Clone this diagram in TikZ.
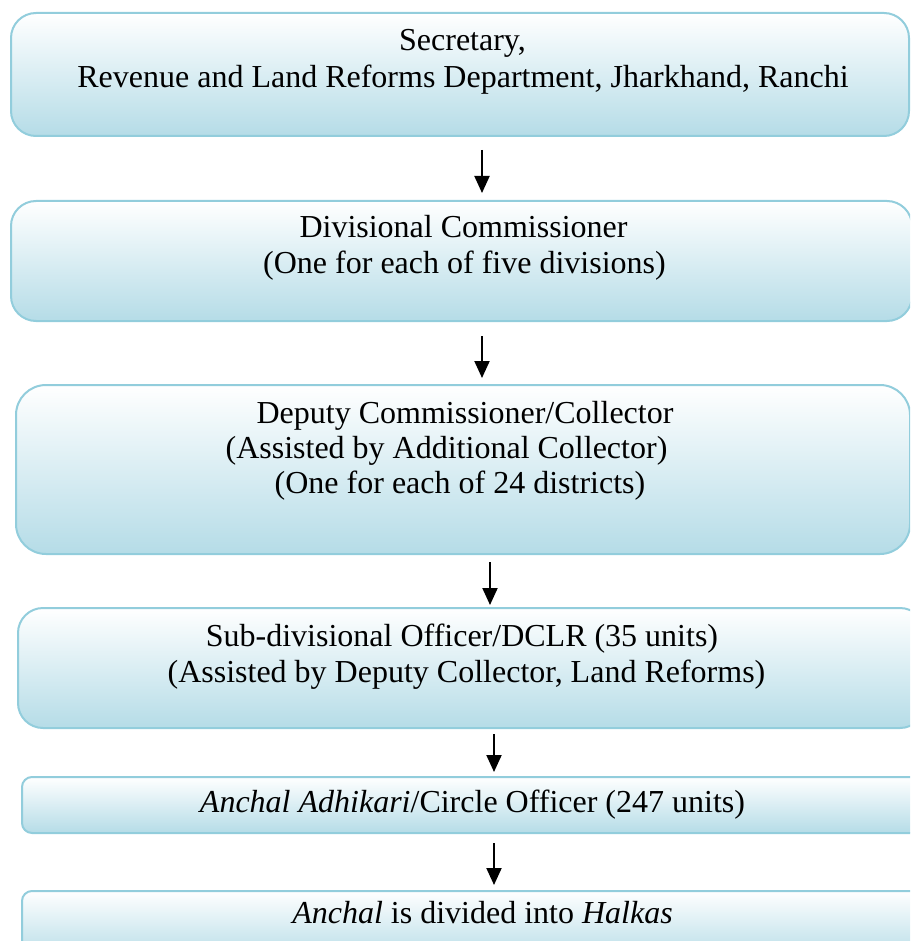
\documentclass[tikz,border=0pt]{standalone}
\usepackage{fontspec}
\setmainfont{Liberation Serif}
\usetikzlibrary{arrows.meta}
\definecolor{boxedge}{RGB}{146,205,220}
\definecolor{boxfill}{RGB}{181,220,231}
\tikzset{
  box/.style={draw=boxedge, line width=2pt, top color=white, bottom color=boxfill,
              rectangle, inner sep=0pt, outer sep=0pt},
  lbl/.style={anchor=base, inner sep=0pt, font=\fontsize{32}{36}\selectfont},
  arr/.style={line width=2pt, -{Triangle[length=17pt,width=15pt]}}
}
\begin{document}
\begin{tikzpicture}[x=1pt,y=-1pt]
\useasboundingbox (0,0) rectangle (910,941);
\clip (0,0) rectangle (910,941);
% boxes
\node[box, rounded corners=25pt, minimum width=898pt, minimum height=123pt] (b1) at (460,74.5) {};
\node[box, rounded corners=25pt, minimum width=901pt, minimum height=120pt] (b2) at (461.5,261) {};
\node[box, rounded corners=30pt, minimum width=894pt, minimum height=169pt] (b3) at (463,469.5) {};
\node[box, rounded corners=25pt, minimum width=907pt, minimum height=120pt] (b4) at (471.5,668) {};
\node[box, rounded corners=10pt, minimum width=908pt, minimum height=56pt] (b5) at (476,805) {};
\node[box, rounded corners=10pt, minimum width=908pt, minimum height=69pt] (b6) at (476,925.5) {};
% texts
\node[lbl] (t11) at (462.5,51) {Secretary,};
\node[lbl] (t12) at (463,88) {Revenue and Land Reforms Department, Jharkhand, Ranchi};
\node[lbl] (t21) at (463.5,237) {Divisional Commissioner};
\node[lbl] (t22) at (464.5,273) {(One for each of five divisions)};
\node[lbl] (t31) at (465,423) {Deputy Commissioner/Collector};
\node[lbl] (t32) at (446.5,458) {(Assisted by Additional Collector)};
\node[lbl] (t33) at (460,493) {(One for each of 24 districts)};
\node[lbl] (t41) at (462,646) {Sub-divisional Officer/DCLR (35 units)};
\node[lbl] (t42) at (466.5,682) {(Assisted by Deputy Collector, Land Reforms)};
\node[lbl] (t51) at (472.5,812) {\textit{Anchal Adhikari}/Circle Officer (247 units)};
\node[lbl] (t61) at (482.5,923) {\textit{Anchal} is divided into \textit{Halkas}};
% arrows
\draw[arr] ([shift={(22,14)}]b1.south) -- ([shift={(20.5,-8)}]b2.north);
\draw[arr] ([shift={(20.5,15)}]b2.south) -- ([shift={(19,-7)}]b3.north);
\draw[arr] ([shift={(27,8)}]b3.south) -- ([shift={(18.5,-3)}]b4.north);
\draw[arr] ([shift={(22.5,6)}]b4.south) -- ([shift={(18,-5)}]b5.north);
\draw[arr] ([shift={(18,10)}]b5.south) -- ([shift={(18,-6)}]b6.north);
\end{tikzpicture}
\end{document}
